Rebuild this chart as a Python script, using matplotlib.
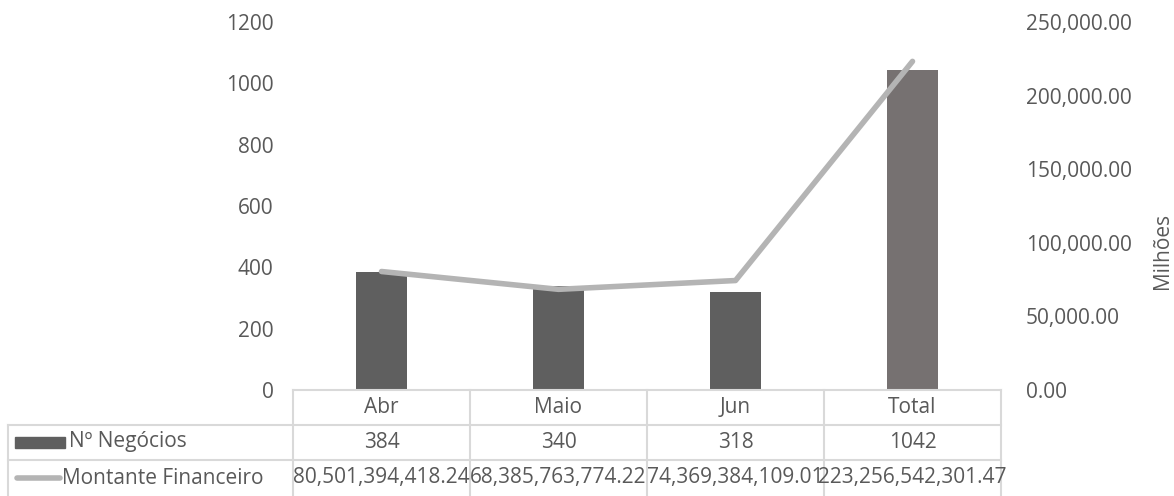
import numpy as np
import matplotlib.pyplot as plt
from matplotlib.lines import Line2D
from matplotlib.patches import Rectangle

categories = ['Abr', 'Maio', 'Jun', 'Total']
negocios = [384, 340, 318, 1042]
montante = [80501394418.24, 68385763774.22, 74369384109.01, 223256542301.47]
bar_colors = ['#5f5f5f', '#5f5f5f', '#5f5f5f', '#767171']

plt.rcParams['font.family'] = ['Open Sans', 'DejaVu Sans']
txt = '#595959'
grid_c = '#d9d9d9'
fs = 15
W, H = 1174, 496

fig = plt.figure(figsize=(W / 100, H / 100), dpi=100)
x0, x1, y0, y1 = 293, 1001, 390, 22
ax = fig.add_axes([x0 / W, 1 - y0 / H, (x1 - x0) / W, (y0 - y1) / H])
ax2 = ax.twinx()

x = np.arange(len(categories))
ax.bar(x, negocios, width=0.29, color=bar_colors, zorder=2)
ax.set_ylim(0, 1200)
ax.set_yticks(np.arange(0, 1201, 200))
ax.set_xlim(-0.5, len(categories) - 0.5)
ax.set_xticks([])

mm = np.array(montante) / 1e6
ax2.plot(x, mm, color='#b4b4b4', lw=4, solid_capstyle='round', zorder=3)
ax2.set_ylim(0, 250000)
ax2.set_yticks(np.arange(0, 250001, 50000))
ax2.set_yticklabels([f'{v:,.2f}' for v in np.arange(0, 250001, 50000)])

for a in (ax, ax2):
    for s in a.spines.values():
        s.set_visible(False)
    a.tick_params(length=0, labelsize=fs, colors=txt)
ax.tick_params(axis='y', pad=14)
ax2.tick_params(axis='y', pad=18)


def fx(px):
    return px / W


def fy(py):
    return 1 - py / H


fig.text(fx(1162), fy(251), 'Milhões', rotation=90, ha='center', va='center',
         fontsize=fs, color=txt)

# data table under the plot
rows = [y0, 425, 460, 496]
ncol = len(categories)
colw = (x1 - x0) / ncol
lw = 1.5
fig.add_artist(Line2D([fx(x0), fx(x1)], [fy(rows[0])] * 2, color=grid_c, lw=lw))
for r in rows[1:3]:
    fig.add_artist(Line2D([fx(8), fx(x1)], [fy(r)] * 2, color=grid_c, lw=lw))
fig.add_artist(Line2D([fx(8), fx(8)], [fy(rows[1]), fy(rows[3])], color=grid_c, lw=lw))
for i in range(ncol + 1):
    xc = x0 + i * colw
    fig.add_artist(Line2D([fx(xc), fx(xc)], [fy(rows[0]), fy(rows[3])], color=grid_c, lw=lw))

row_vals = [categories,
            [str(v) for v in negocios],
            [f'{v:,.2f}' for v in montante]]
for ri, vals in enumerate(row_vals):
    yc = (rows[ri] + rows[ri + 1]) / 2
    for ci, v in enumerate(vals):
        fig.text(fx(x0 + (ci + 0.5) * colw), fy(yc), v, ha='center', va='center',
                 fontsize=fs, color=txt)

# legend keys
fig.add_artist(Rectangle((fx(15), fy(448)), fx(50), 11 / H, color='#5f5f5f'))
fig.text(fx(69), fy(442), 'Nº Negócios', ha='left', va='center', fontsize=fs, color=txt)
fig.add_artist(Line2D([fx(17), fx(60)], [fy(478)] * 2, color='#b4b4b4', lw=4,
                      solid_capstyle='round'))
fig.text(fx(62), fy(478), 'Montante Financeiro', ha='left', va='center', fontsize=fs, color=txt)

fig.savefig('out.png', dpi=100)
